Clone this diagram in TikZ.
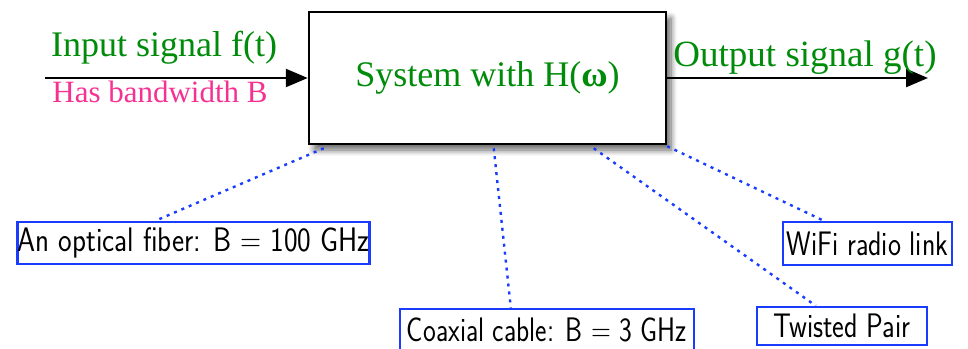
\documentclass[tikz,border=0pt]{standalone}
\usepackage{fontspec}
\setmainfont{Liberation Serif}
\usetikzlibrary{arrows.meta,shadows.blur}
\definecolor{sysgreen}{RGB}{0,140,10}
\definecolor{bwpink}{RGB}{245,50,145}
\definecolor{linkblue}{RGB}{25,60,255}
\tikzset{
  sigtext/.style={text=sysgreen,font=\fontsize{36}{40}\selectfont,inner sep=0pt},
  medbox/.style={draw=linkblue,line width=2.4pt,inner sep=0pt,font=\sffamily\fontsize{34}{38}\selectfont},
  medlink/.style={draw=linkblue,line width=2.4pt,dash pattern=on 3pt off 5pt},
  sigarrow/.style={line width=2.5pt,-{Triangle[length=22pt,width=18pt]}}
}
\newcommand{\sq}[2]{\scalebox{#1}[1]{#2}}
\begin{document}
\begin{tikzpicture}[x=1pt,y=-1pt]
\useasboundingbox (0,0) rectangle (968,348);
% main system box
\node[draw,fill=white,line width=2.5pt,minimum width=357pt,minimum height=132pt,
  blur shadow={shadow xshift=5pt,shadow yshift=-6pt,shadow blur radius=6pt,shadow blur steps=8,shadow opacity=60},
  text=sysgreen,font=\fontsize{36}{40}\selectfont] (sys) at (487.5,78) {System with H({\bfseries ω})};
% signals
\coordinate (in) at (45,78);
\coordinate (out) at (928,78);
\draw[sigarrow] (in) -- (sys.west);
\draw[sigarrow] (sys.east) -- (out);
\node[sigtext,anchor=base] (inlab) at (164,56) {Input signal f(t)};
\node[text=bwpink,font=\fontsize{31}{34}\selectfont,inner sep=0pt,anchor=base] (bwlab) at (160,102) {Has bandwidth B};
\node[sigtext,anchor=base,font=\fontsize{37}{40}\selectfont] (outlab) at (805,66) {Output signal g(t)};
% media boxes
\node[medbox,minimum width=351pt,minimum height=42pt] (fiber) at (193.5,243) {\sq{0.85}{An optical fiber: B = 100 GHz}};
\node[medbox,minimum width=294pt,minimum height=42pt] (coax) at (547,330) {\sq{0.80}{Coaxial cable: B = 3 GHz}};
\node[medbox,minimum width=169pt,minimum height=43pt] (wifi) at (867.5,243.5) {\sq{0.815}{WiFi radio link}};
\node[medbox,minimum width=170pt,minimum height=38pt] (twisted) at (842,326) {\sq{0.82}{Twisted Pair}};
% links
\draw[medlink] ([xshift=16pt,yshift=-3pt]sys.south west) -- ([xshift=139pt]fiber.north west);
\draw[medlink] ([xshift=186pt,yshift=-3pt]sys.south west) -- ([xshift=112pt]coax.north west);
\draw[medlink] ([xshift=286pt,yshift=-3pt]sys.south west) -- ([xshift=60pt]twisted.north west);
\draw[medlink] ([yshift=-1pt]sys.south east) -- ([xshift=42pt]wifi.north west);
\end{tikzpicture}
\end{document}
